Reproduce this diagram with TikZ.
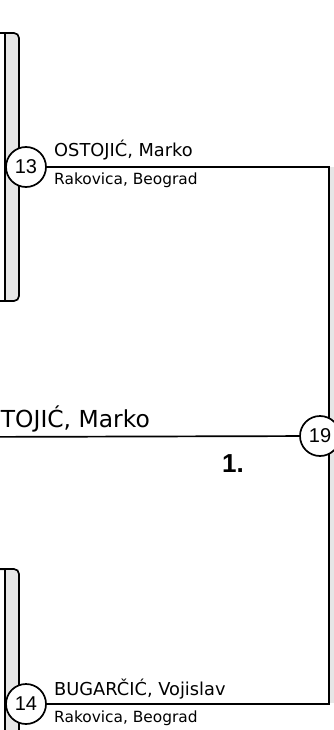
\documentclass[tikz,border=0pt]{standalone}
\usepackage{fontspec}
\setmainfont{DejaVu Sans}
\newfontfamily\numfont{Liberation Sans}
\usepackage{tikz}

\definecolor{barfill}{HTML}{E6E6E6}
\tikzset{
  seed/.style={circle, draw, fill=white, line width=1.7pt, minimum size=40pt, inner sep=0pt, font=\numfont\fontsize{20}{20}\selectfont},
  pname/.style={anchor=base west, inner sep=0pt, font=\fontsize{17.8}{18}\selectfont},
  pclub/.style={anchor=base west, inner sep=0pt, font=\fontsize{15.4}{16}\selectfont},
  bracket/.style={line width=1.7pt},
}

\begin{document}
\begin{tikzpicture}[x=1pt, y=-1pt]
        \useasboundingbox (0,0) rectangle (334,730);

        % side bars
        \draw[bracket, fill=barfill, rounded corners=5pt] (-20,33) rectangle (19,301);
        \fill[white] (-21,34.5) rectangle (5,299.5);
        \draw[bracket] (5,33) -- (5,301);

        \draw[bracket, fill=barfill, rounded corners=5pt] (-20,569) rectangle (19,760);
        \fill[white] (-21,570.5) rectangle (5,760);
        \draw[bracket] (5,569) -- (5,760);

        \fill[barfill] (329,167) rectangle (340,703);

        % players
        \node[seed] (c13) at (26,167) {13};
        \node[seed] (c14) at (26,704) {14};

        \coordinate (top) at (329,167);
        \coordinate (bot) at (329,704);
        \draw[bracket] (c13) -- (top) -- (bot) -- (c14);

        \node[pname] (n13) at (54,157) {OSTOJIĆ, Marko};
        \node[pclub] (k13) at (54,185) {Rakovica, Beograd};
        \node[pname] (n14) at (54,695) {BUGARČIĆ, Vojislav};
        \node[pclub] (k14) at (54,722) {Rakovica, Beograd};

        % winner
        \coordinate (win) at (-40,437);
        \node[seed] (c19) at (320,436) {19};
        \draw[bracket] (win) -- (c19);
        \node[anchor=base east, inner sep=0pt, font=\fontsize{23.4}{24}\selectfont] (w) at (150,427) {OSTOJIĆ, Marko};
        \node[anchor=base west, inner sep=0pt, font=\numfont\bfseries\fontsize{26}{26}\selectfont] (place) at (222,472) {1.};

\end{tikzpicture}
\end{document}
